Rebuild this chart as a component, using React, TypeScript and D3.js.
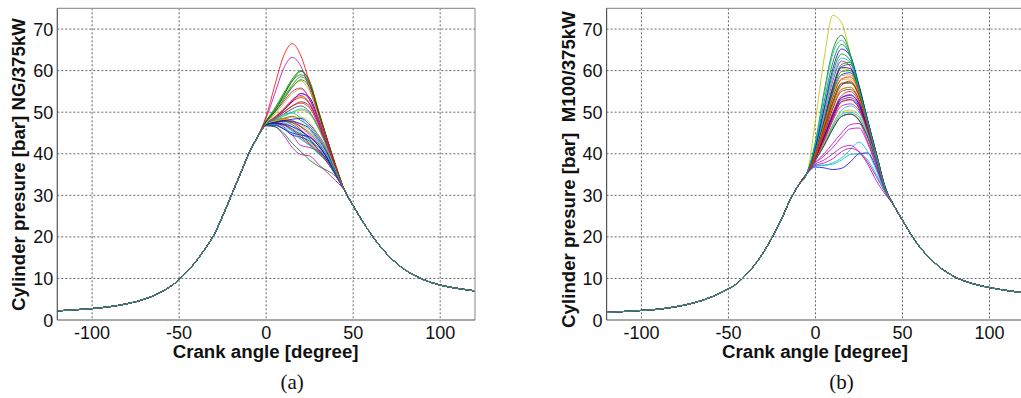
import * as d3 from "d3";

// ── Data ─────────────────────────────────────────────────────────────────────

const X_TICKS = [-100, -50, 0, 50, 100];
const Y_TICKS = [0, 10, 20, 30, 40, 50, 60, 70];

// MATLAB classic colour order: b g r c m y k
const LINE_COLORS = ["#0000ff", "#008000", "#ff0000", "#00bfbf", "#bf00bf", "#bfbf00", "#404040"];

// shared compression stroke (before ignition)
const COMP_ANGLES = [-120, -110, -100, -90, -80, -70, -60, -50, -45, -40, -35, -30, -25, -20, -15, -10, -5];
const NG_COMP = [2.2, 2.45, 2.75, 3.2, 3.9, 5.0, 6.8, 9.7, 11.8, 14.3, 17.2, 20.5, 25, 30, 35, 40, 44];
const M100_COMP = [1.8, 2.05, 2.3, 2.6, 3.2, 4.1, 5.5, 7.5, 8.8, 10.8, 13.2, 16.2, 19.8, 23.8, 28.5, 32.3, 35.2];

// per-cycle combustion part
const CYCLE_ANGLES = [0, 5, 10, 15, 20, 25, 30, 35, 40];

const NG_CYCLES = [
  [47.0, 47.4, 47.2, 46.5, 45.5, 44.0, 42.0, 39.0, 35.0],
  [47.8, 50.5, 54.0, 57.5, 59.8, 57.5, 50.5, 43.5, 37.0],
  [49.0, 56.5, 63.5, 66.5, 63.5, 57.0, 50.0, 43.5, 37.2],
  [47.2, 48.5, 49.5, 49.8, 48.5, 46.0, 43.0, 39.5, 35.5],
  [48.6, 54.5, 60.5, 63.2, 61.0, 55.5, 49.5, 43.0, 37.0],
  [47.5, 49.5, 52.0, 54.5, 55.5, 53.5, 48.5, 42.5, 36.5],
  [47.3, 48.5, 50.0, 51.5, 52.5, 51.5, 47.5, 42.0, 36.5],
  [46.9, 47.0, 46.0, 44.5, 44.0, 43.0, 41.0, 38.5, 35.0],
  [47.9, 51.0, 54.5, 58.0, 60.0, 57.0, 50.5, 43.5, 37.0],
  [47.2, 48.0, 48.5, 48.0, 46.5, 44.5, 42.0, 39.0, 35.5],
  [47.0, 47.8, 47.5, 46.5, 45.0, 43.0, 41.0, 38.5, 35.0],
  [46.7, 46.5, 44.5, 41.5, 39.8, 39.5, 37.5, 35.5, 33.5],
  [47.6, 50.0, 53.0, 56.0, 57.5, 55.0, 49.5, 43.0, 36.8],
  [47.1, 47.8, 48.5, 49.0, 48.0, 46.5, 44.0, 40.5, 36.0],
  [47.2, 48.8, 50.5, 52.5, 54.5, 53.5, 48.5, 42.5, 36.5],
  [47.8, 50.5, 53.5, 56.5, 58.5, 56.5, 50.0, 43.5, 37.0],
  [47.3, 48.8, 50.5, 52.5, 53.5, 52.0, 47.5, 42.0, 36.5],
  [47.0, 47.5, 47.0, 45.5, 43.5, 42.0, 40.0, 38.0, 34.8],
  [47.5, 50.0, 52.5, 55.0, 55.8, 53.0, 48.0, 42.5, 36.5],
  [47.2, 48.2, 49.2, 50.0, 50.5, 49.5, 46.0, 41.5, 36.0],
  [47.0, 47.6, 47.8, 47.0, 45.5, 43.5, 41.0, 38.5, 35.0],
  [47.0, 47.5, 48.0, 48.3, 48.5, 47.0, 44.5, 41.0, 36.0],
  [47.7, 50.0, 53.0, 56.0, 57.8, 56.0, 50.0, 43.5, 37.0],
  [47.1, 47.8, 48.2, 47.5, 45.8, 43.5, 41.0, 38.5, 35.2],
  [47.0, 47.3, 46.8, 45.5, 44.8, 43.5, 41.5, 38.8, 35.2],
  [47.3, 48.8, 50.8, 53.0, 54.0, 52.0, 47.5, 42.0, 36.5],
  [47.4, 49.0, 50.8, 52.8, 53.8, 52.5, 48.0, 42.5, 36.5],
  [47.2, 48.3, 49.5, 50.8, 51.5, 50.0, 46.5, 41.8, 36.2],
  [46.8, 46.8, 46.0, 45.0, 44.5, 44.0, 42.0, 39.0, 35.2],
  [46.8, 46.5, 45.0, 42.5, 40.5, 38.5, 37.0, 36.0, 34.5],
  [47.2, 48.5, 50.0, 51.5, 52.2, 51.0, 47.0, 41.8, 36.3],
  [47.1, 48.0, 49.0, 50.0, 50.8, 49.8, 46.2, 41.5, 36.0],
  [46.9, 47.2, 46.5, 44.5, 42.0, 41.5, 40.5, 38.0, 34.8],
  [47.0, 47.8, 48.2, 48.0, 47.0, 45.5, 43.0, 40.0, 35.5],
  [46.9, 47.2, 47.0, 46.0, 44.5, 42.5, 40.5, 38.2, 35.0],
  [47.0, 47.6, 48.0, 47.8, 47.2, 46.0, 43.5, 40.2, 35.8],
  [47.8, 50.5, 54.0, 57.5, 59.0, 56.8, 50.2, 43.5, 37.0],
  [46.9, 47.3, 47.0, 45.8, 44.0, 42.2, 40.2, 38.0, 34.8],
  [46.9, 47.0, 46.2, 44.8, 43.5, 42.0, 40.2, 38.2, 35.0],
  [47.2, 48.5, 50.5, 52.8, 54.5, 53.0, 48.0, 42.5, 36.5],
  [47.1, 47.8, 48.5, 48.8, 48.8, 47.5, 44.5, 41.0, 36.0],
  [47.0, 47.5, 47.8, 47.5, 46.5, 45.0, 42.5, 39.5, 35.5],
];

const M100_CYCLES = [
  [41.5, 51.0, 60.5, 65.2, 63.5, 56.5, 48.0, 40.0, 32.0],
  [43.0, 55.0, 65.0, 68.5, 64.0, 56.0, 47.5, 39.5, 31.8],
  [39.5, 45.5, 52.0, 56.5, 57.5, 54.0, 47.0, 39.5, 31.8],
  [42.5, 54.0, 64.0, 67.3, 63.5, 55.5, 47.5, 39.5, 31.8],
  [41.0, 49.0, 57.5, 62.3, 61.0, 55.5, 47.5, 39.5, 31.8],
  [48.0, 63.0, 73.3, 71.5, 64.0, 55.5, 47.0, 39.0, 31.5],
  [40.5, 47.5, 55.5, 61.0, 61.5, 56.0, 48.0, 40.0, 32.0],
  [40.0, 47.0, 54.5, 59.0, 59.5, 55.0, 47.5, 40.0, 32.0],
  [40.5, 48.0, 56.0, 61.5, 62.0, 56.5, 48.0, 40.0, 32.0],
  [39.5, 45.0, 51.0, 55.5, 56.0, 53.0, 46.5, 39.5, 31.8],
  [38.5, 42.5, 47.0, 50.5, 51.5, 50.0, 45.0, 38.5, 31.5],
  [38.0, 40.0, 42.5, 45.0, 47.0, 47.3, 43.0, 37.5, 31.5],
  [41.0, 48.5, 56.5, 60.5, 60.0, 55.0, 47.5, 39.5, 31.8],
  [38.5, 42.0, 46.0, 49.0, 49.5, 48.0, 44.0, 38.0, 31.5],
  [36.8, 36.6, 36.2, 36.5, 38.0, 40.0, 40.2, 36.5, 31.0],
  [41.5, 50.5, 59.5, 64.0, 62.5, 56.0, 48.0, 40.0, 32.0],
  [39.2, 44.5, 50.0, 54.0, 55.0, 52.5, 46.5, 39.5, 31.8],
  [37.2, 37.3, 37.8, 39.0, 41.0, 42.8, 40.5, 36.0, 31.0],
  [37.2, 37.8, 38.8, 40.5, 41.3, 40.5, 38.0, 34.5, 30.8],
  [40.0, 46.5, 53.5, 57.8, 58.0, 54.5, 47.5, 39.8, 32.0],
  [39.8, 46.0, 52.5, 56.8, 57.0, 54.0, 47.0, 39.5, 31.8],
  [40.5, 48.0, 56.0, 60.8, 60.5, 55.5, 47.5, 39.8, 32.0],
  [40.2, 47.5, 55.0, 59.8, 60.0, 55.5, 47.8, 40.0, 32.0],
  [39.0, 44.0, 49.5, 53.5, 54.0, 52.0, 46.0, 39.0, 31.8],
  [41.2, 50.0, 58.5, 63.0, 62.0, 56.0, 48.0, 40.0, 32.0],
  [37.8, 39.5, 41.5, 44.0, 46.0, 46.2, 42.5, 37.0, 31.3],
  [40.2, 47.0, 54.0, 58.8, 59.0, 55.0, 47.5, 40.0, 32.0],
  [39.0, 43.5, 48.5, 52.5, 53.0, 51.0, 45.5, 39.0, 31.6],
  [39.0, 44.0, 49.5, 53.5, 54.2, 52.0, 46.0, 39.2, 31.8],
  [39.8, 46.0, 52.5, 57.0, 57.2, 54.0, 47.0, 39.5, 31.8],
  [40.0, 46.5, 53.5, 58.0, 58.5, 55.0, 47.5, 39.8, 32.0],
  [37.0, 37.2, 37.5, 38.5, 39.8, 40.0, 38.5, 35.0, 30.8],
  [38.8, 43.0, 48.0, 51.5, 52.0, 50.5, 45.5, 38.8, 31.5],
  [38.5, 42.5, 47.0, 50.0, 50.5, 49.2, 44.5, 38.5, 31.5],
  [39.5, 45.0, 51.0, 55.0, 55.5, 53.0, 46.5, 39.5, 31.8],
  [39.0, 44.0, 49.0, 53.0, 53.5, 51.5, 46.0, 39.0, 31.8],
  [42.0, 52.5, 62.0, 66.3, 63.5, 56.0, 47.8, 39.8, 31.8],
  [39.0, 43.5, 48.5, 52.5, 53.0, 51.0, 45.8, 39.0, 31.6],
  [38.5, 42.0, 46.5, 49.5, 50.0, 48.8, 44.5, 38.5, 31.5],
  [37.5, 38.5, 40.0, 41.5, 42.0, 40.5, 37.5, 33.5, 30.3],
  [39.5, 45.5, 51.5, 55.5, 56.0, 53.5, 47.0, 39.5, 31.8],
  [38.5, 42.0, 46.0, 49.0, 49.6, 48.2, 44.0, 38.0, 31.5],
];

// shared expansion stroke
const TAIL_ANGLES = [45, 50, 55, 60, 65, 70, 80, 90, 100, 110, 120];
const NG_TAIL = [31.2, 27.5, 24.0, 20.8, 18.0, 15.6, 12.0, 9.8, 8.4, 7.6, 7.0];
const M100_TAIL = [27.6, 24.0, 20.5, 17.5, 15.2, 13.2, 10.4, 8.8, 7.8, 7.1, 6.5];

// ── Panel ────────────────────────────────────────────────────────────────────

const FONT = "'Liberation Sans', Arial, Helvetica, sans-serif";

interface PanelProps {
  id: string;
  left: number;
  right: number;
  comp: number[];
  cycles: number[][];
  tail: number[];
  yLabel: string;
  yLabelCenter: number;
  caption: string;
}

function Panel({ id, left, right, comp, cycles, tail, yLabel, yLabelCenter, caption }: PanelProps) {
  const top = 8.3;
  const bottom = 320;
  const x = d3.scaleLinear().domain([-120, 120]).range([left, right]);
  const y = d3.scaleLinear().domain([0, 75]).range([bottom, top]);

  const line = d3
    .line<[number, number]>()
    .x((d) => x(d[0]))
    .y((d) => y(d[1]))
    .curve(d3.curveMonotoneX);

  const head: [number, number][] = COMP_ANGLES.map((a, i) => [a, comp[i]]);
  const end: [number, number][] = TAIL_ANGLES.map((a, i) => [a, tail[i]]);
  const paths = cycles.map((c, i) => ({
    color: LINE_COLORS[i % LINE_COLORS.length],
    d: line([...head, ...CYCLE_ANGLES.map((a, j) => [a, c[j]] as [number, number]), ...end]) ?? "",
  }));
  // rotate the draw order so a cyan cycle ends up on top of the shared stroke
  const ordered = [...paths.slice(4), ...paths.slice(0, 4)];

  const midX = (left + right) / 2;

  return (
    <g>
      <defs>
        <clipPath id={`clip-${id}`}>
          <rect x={left} y={top} width={right - left} height={bottom - top} />
        </clipPath>
      </defs>
      <rect x={left} y={top} width={right - left} height={bottom - top} fill="#fff" />

      {/* grid */}
      {X_TICKS.map((t) => (
        <line key={`gx${t}`} x1={x(t)} x2={x(t)} y1={top} y2={bottom}
          stroke="#555" strokeWidth={0.9} strokeDasharray="2,2" />
      ))}
      {Y_TICKS.filter((t) => t > 0).map((t) => (
        <line key={`gy${t}`} x1={left} x2={right} y1={y(t)} y2={y(t)}
          stroke="#555" strokeWidth={0.9} strokeDasharray="2,2" />
      ))}

      {/* cycles */}
      <g clipPath={`url(#clip-${id})`}>
        {ordered.map((p, i) => (
          <path key={i} d={p.d} fill="none" stroke={p.color} strokeWidth={0.9} strokeOpacity={0.9} />
        ))}
      </g>

      {/* frame */}
      <line x1={left} x2={right} y1={top} y2={top} stroke="#999" strokeWidth={1.2} />
      <line x1={right} x2={right} y1={top} y2={bottom} stroke="#999" strokeWidth={1.2} />
      <line x1={left} x2={right} y1={bottom} y2={bottom} stroke="#555" strokeWidth={1.2} />
      <line x1={left} x2={left} y1={top} y2={bottom} stroke="#555" strokeWidth={1.2} />

      {/* tick labels */}
      {X_TICKS.map((t) => (
        <text key={`tx${t}`} x={x(t)} y={339} textAnchor="middle"
          fontFamily={FONT} fontSize={18} fill="#111">{String(t)}</text>
      ))}
      {Y_TICKS.map((t) => (
        <text key={`ty${t}`} x={left - 4} y={y(t) + 6.5} textAnchor="end"
          fontFamily={FONT} fontSize={18} fill="#111">{String(t)}</text>
      ))}

      {/* axis titles */}
      <text x={midX - 0.5} y={358} textAnchor="middle" fontFamily={FONT}
        fontSize={18.7} fontWeight="bold" fill="#111">Crank angle [degree]</text>
      <text transform={`translate(${left - 32},${yLabelCenter}) rotate(-90)`} textAnchor="middle"
        fontFamily={FONT} fontSize={18.7} fontWeight="bold" fill="#111"
        style={{ whiteSpace: "pre" }}>{yLabel}</text>

      <text x={midX + 26} y={389} textAnchor="middle"
        fontFamily="'Liberation Serif', 'Times New Roman', serif" fontSize={21} fill="#111">{caption}</text>
    </g>
  );
}

export default function App() {
  return (
    <svg width={1021} height={398} style={{ position: "absolute", left: 0, top: 0, background: "#fff" }}>
      <Panel id="ng" left={57.3} right={475} comp={NG_COMP} cycles={NG_CYCLES} tail={NG_TAIL}
        yLabel="Cylinder presure [bar] NG/375kW" yLabelCenter={164.5} caption="(a)" />
      <Panel id="m100" left={606.6} right={1024.3} comp={M100_COMP} cycles={M100_CYCLES} tail={M100_TAIL}
        yLabel="Cylinder presure [bar]  M100/375kW" yLabelCenter={169.5} caption="(b)" />
    </svg>
  );
}
